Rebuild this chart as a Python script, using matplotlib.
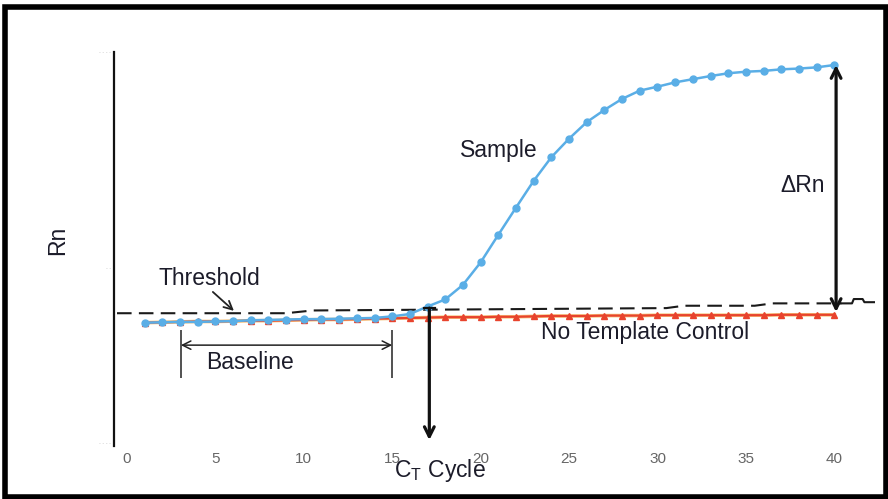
import matplotlib
matplotlib.use("Agg")
import matplotlib.pyplot as plt
from matplotlib.patches import Rectangle

plt.rcParams['font.family'] = ['Liberation Sans', 'DejaVu Sans']
plt.rcParams['mathtext.fontset'] = 'custom'
plt.rcParams['mathtext.rm'] = 'Liberation Sans'
plt.rcParams['mathtext.it'] = 'Liberation Sans'

# ---- data ----
cycles = list(range(1, 41))
sample_rn = [0.313, 0.314, 0.315, 0.315, 0.316, 0.317, 0.319, 0.320, 0.321, 0.322,
             0.322, 0.323, 0.324, 0.325, 0.329, 0.335, 0.354, 0.372, 0.409, 0.466,
             0.536, 0.605, 0.673, 0.733, 0.780, 0.822, 0.853, 0.881, 0.902, 0.912,
             0.923, 0.931, 0.939, 0.946, 0.950, 0.952, 0.956, 0.958, 0.961, 0.967]
ntc_rn = [0.313, 0.314, 0.315, 0.316, 0.316, 0.317, 0.318, 0.318, 0.319, 0.320,
          0.321, 0.321, 0.322, 0.323, 0.324, 0.325, 0.326, 0.327, 0.327, 0.327,
          0.328, 0.328, 0.329, 0.330, 0.330, 0.330, 0.331, 0.331, 0.331, 0.332,
          0.332, 0.332, 0.332, 0.332, 0.332, 0.332, 0.333, 0.333, 0.333, 0.333]
thr_x = [-0.56, 9.0, 10.5, 30.5, 31.5, 35.5, 36.5, 40.4]
thr_y = [0.337, 0.337, 0.344, 0.350, 0.356, 0.356, 0.362, 0.362]
thr_tail_x = [40.4, 41.0, 41.1, 41.6, 41.7, 42.3]
thr_tail_y = [0.362, 0.362, 0.373, 0.373, 0.365, 0.365]
baseline_start, baseline_end = 3.05, 15.0
ct_cycle = 17.1
ct_threshold = 0.350
xticks = [0, 5, 10, 15, 20, 25, 30, 35, 40]

BLUE = '#5aaee6'
RED = '#e8432d'

fig = plt.figure(figsize=(8.88, 4.99), dpi=100)
ax = fig.add_axes([114/888, 53/499, (875-114)/888, (446-52)/499])
ax.set_xlim(-0.73, 42.3)
ax.set_ylim(0, 1.0)

# threshold
ax.plot(thr_x, thr_y, color='#1a1a1a', lw=1.5, dashes=(7, 3.5), zorder=2)
ax.plot(thr_tail_x, thr_tail_y, color='#1a1a1a', lw=1.5, zorder=2)

# NTC
ax.plot(cycles, ntc_rn, color='#f3a640', lw=2.6, zorder=3, alpha=0.7)
ax.plot(cycles, ntc_rn, color=RED, lw=1.6, marker='^', ms=4.5, zorder=4)
# sample
ax.plot(cycles, sample_rn, color=BLUE, lw=1.8, marker='o', ms=5, zorder=5)

# spines
for s in ['top', 'right', 'bottom']:
    ax.spines[s].set_visible(False)
ax.spines['left'].set_linewidth(1.6)
ax.spines['left'].set_color('#111111')

ax.set_xticks(xticks)
ax.set_xticklabels([str(t) for t in xticks], color='#666666', fontsize=11,
                   family=['Liberation Sans Narrow', 'Liberation Sans'])
ax.tick_params(axis='x', length=0, pad=4)
ax.set_yticks([0.008, 0.452, 1.0])
ax.set_yticklabels(['- - - -', '- -', '- - - -'], color='#c0c0c0', fontsize=4)
ax.tick_params(axis='y', length=0, pad=2)

# Ct arrow
ax.annotate('', xy=(ct_cycle, 0.015), xytext=(ct_cycle, ct_threshold),
            arrowprops=dict(arrowstyle='->,head_length=0.7,head_width=0.35', lw=2.3,
                            color='#111111', shrinkA=0, shrinkB=0), zorder=6)
ax.plot([ct_cycle - 0.3, ct_cycle + 0.3], [ct_threshold, ct_threshold], color='#111111', lw=1.6, zorder=6)

# Delta Rn arrow
ax.annotate('', xy=(40.1, sample_rn[-1]), xytext=(40.1, 0.340),
            arrowprops=dict(arrowstyle='<->,head_length=0.7,head_width=0.35', lw=2.3,
                            color='#111111', shrinkA=0, shrinkB=0), zorder=6)

# Baseline
ax.vlines([baseline_start, baseline_end], 0.173, 0.294, color='#222222', lw=1.1)
ax.annotate('', xy=(baseline_end, 0.256), xytext=(baseline_start, 0.256),
            arrowprops=dict(arrowstyle='<->,head_length=0.6,head_width=0.3', lw=1.1,
                            color='#222222', shrinkA=0, shrinkB=0))

# Threshold pointer
ax.annotate('', xy=(6.05, 0.343), xytext=(4.86, 0.391),
            arrowprops=dict(arrowstyle='->,head_length=0.6,head_width=0.3', lw=1.3,
                            color='#222222', shrinkA=0, shrinkB=0))

fs = 16.5
tc = '#1c1c2a'
ax.text(21.0, 0.751, 'Sample', fontsize=fs, ha='center', va='center', color=tc)
ax.text(4.69, 0.426, 'Threshold', fontsize=fs, ha='center', va='center', color=tc)
ax.text(6.95, 0.213, 'Baseline', fontsize=fs, ha='center', va='center', color=tc)
ax.text(29.3, 0.287, 'No Template Control', fontsize=fs, ha='center', va='center', color=tc)
ax.text(38.2, 0.662, '\u0394Rn', fontsize=fs, ha='center', va='center', color=tc)

fig.text(58/888, 1 - 240/499, 'Rn', rotation=90, fontsize=fs, ha='center', va='center', color=tc)
fig.text(440/888, 1 - 471/499, r'C$_\mathrm{T}$ Cycle', fontsize=fs, ha='center', va='center', color=tc)

# frame
fig.patches.append(Rectangle((5/888, 2.5/499), 880.5/888, 489.5/499, transform=fig.transFigure,
                             fill=False, edgecolor='black', lw=4.0))

fig.savefig('out.png', dpi=100)
